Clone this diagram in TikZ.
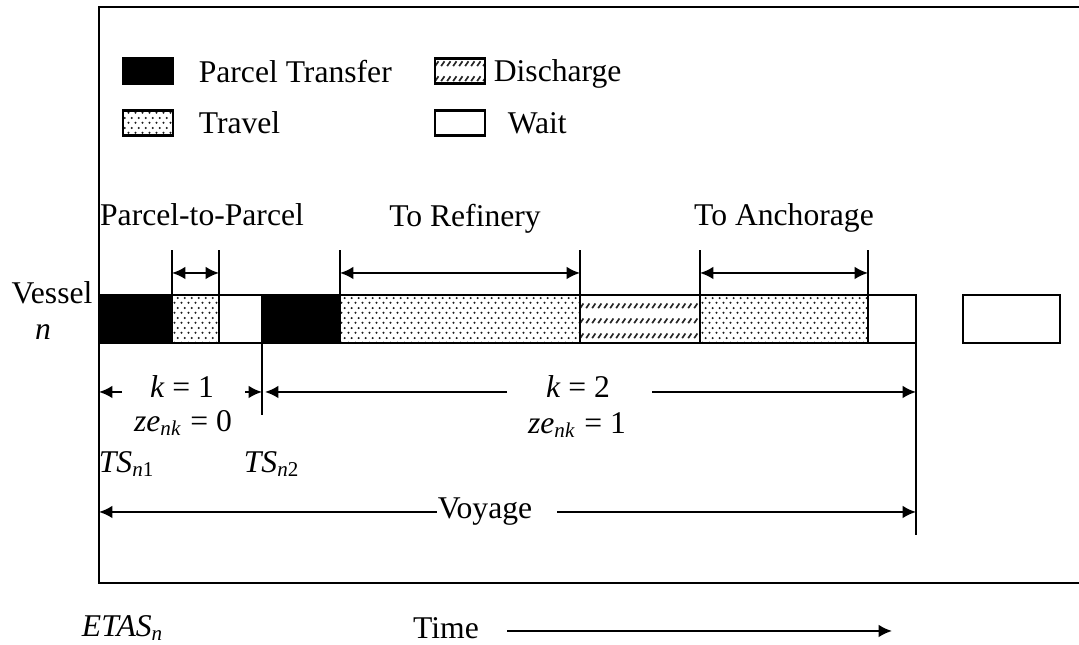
\documentclass[tikz,border=0pt]{standalone}
\usepackage{fontspec}
\setmainfont{Liberation Serif}
\usetikzlibrary{arrows.meta,patterns.meta,positioning}

% fill patterns for travel and discharge
\tikzdeclarepattern{
  name=travdots,
  tile size={(1.9pt,2.85pt)},
  bounding box={(0pt,0pt) and (1.9pt,2.85pt)},
  code={
    \fill (0.45pt,0.7pt) circle (0.34pt);
    \fill (1.4pt,2.12pt) circle (0.34pt);
  }
}
\tikzdeclarepattern{
  name=dischlines,
  tile size={(1.65pt,4.3pt)},
  bounding box={(0pt,0pt) and (1.65pt,4.3pt)},
  code={
    \draw[line width=0.5pt] (0.35pt,1.45pt) -- (1.3pt,2.85pt);
  }
}

\begin{document}
\begin{tikzpicture}[
  font=\fontsize{9}{11}\selectfont,
  line width=0.6pt,
  ptrans/.style={draw=black, fill=black},
  travel/.style={draw=black, pattern=travdots, pattern color=black!90},
  dischg/.style={draw=black, pattern=dischlines, pattern color=black!85},
  waitbox/.style={draw=black, fill=white},
  legbox/.style={minimum width=0.5cm, minimum height=0.25cm, inner sep=0pt},
  lbl/.style={text depth=0pt},
  dim/.style={-{Latex[length=3.8pt,width=3.6pt]}},
  dimboth/.style={{Latex[length=3.8pt,width=3.6pt]}-{Latex[length=3.8pt,width=3.6pt]}}]
\useasboundingbox (0,0) rectangle (10.79,6.45);
% frame (open on the right)
\draw (10.79,6.38) -- (0.99,6.38) -- (0.99,0.62) -- (10.79,0.62);
% legend
\node[legbox, ptrans] (lgpt) at (1.48,5.74) {};
\node[lbl, right=0.12cm of lgpt] (lgpttxt) {Parcel Transfer};
\node[legbox, travel] (lgtr) at (1.48,5.22) {};
\node[lbl, right=0.12cm of lgtr] (lgtrtxt) {Travel};
\node[legbox, dischg] (lgdc) at (4.60,5.74) {};
\node[lbl, right=-0.05cm of lgdc] (lgdctxt) {Discharge};
\node[legbox, waitbox] (lgwt) at (4.60,5.22) {};
\node[lbl, right=0.09cm of lgwt] (lgwttxt) {Wait};
% vessel n schedule bar
\node (vsl) at (0.52,3.52) {Vessel};
\node (vsln) at (0.43,3.13) {\textit{n}};
\foreach \a/\b/\s in {0.99/1.72/ptrans, 1.72/2.19/travel, 2.19/2.62/waitbox,
    2.62/3.40/ptrans, 3.40/5.80/travel, 5.80/7.00/dischg, 7.00/8.68/travel,
    8.68/9.16/waitbox, 9.63/10.60/waitbox}
  \draw[\s] (\a,3.02) rectangle (\b,3.50);
% travel legs above the bar
\foreach \x [count=\i] in {1.72,2.19,3.40,5.80,7.00,8.68} {
  \draw (\x,3.50) -- (\x,3.95);
  \coordinate (t\i) at (\x,3.72);
}
\draw[dimboth] (t1) -- (t2);
\draw[dimboth] (t3) -- (t4);
\draw[dimboth] (t5) -- (t6);
\node[lbl] (p2p) at (2.02,4.30) {Parcel-to-Parcel};
\node[lbl] (toref) at (4.65,4.30) {To Refinery};
\node[lbl] (toanc) at (7.84,4.30) {To Anchorage};
% parcel transfers k = 1, 2
\draw (2.62,3.02) -- (2.62,2.30);
\draw (9.16,3.02) -- (9.16,1.10);
\coordinate (s1) at (0.99,2.53);
\coordinate (s2) at (2.62,2.53);
\coordinate (s2b) at (2.65,2.53);
\coordinate (s3) at (9.16,2.53);
\coordinate (a1) at (1.22,2.53);
\coordinate (a2) at (2.45,2.53);
\coordinate (a3) at (5.07,2.53);
\coordinate (a4) at (6.52,2.53);
\draw[dim] (a1) -- (s1);
\draw[dim] (a2) -- (s2);
\draw[dim] (a3) -- (s2b);
\draw[dim] (a4) -- (s3);
\node (k1) at (1.82,2.58) {\textit{k} = 1};
\node (ze1) at (1.83,2.22) {\textit{ze}\textsubscript{\textit{nk}} = 0};
\node (k2) at (5.78,2.58) {\textit{k} = 2};
\node (ze2) at (5.77,2.20) {\textit{ze}\textsubscript{\textit{nk}} = 1};
\node (ts1) at (1.27,1.81) {\textit{TS}\textsubscript{\textit{n}1}};
\node (ts2) at (2.72,1.81) {\textit{TS}\textsubscript{\textit{n}2}};
% voyage
\node[inner sep=0pt] (voy) at (4.85,1.33) {Voyage};
\coordinate (v0) at (0.99,1.33);
\coordinate (v1) at (5.57,1.33);
\coordinate (v2) at (9.16,1.33);
\draw[dim] (voy.west) -- (v0);
\draw[dim] (v1) -- (v2);
% time axis
\node (etas) at (1.23,0.17) {\textit{ETAS}\textsubscript{\textit{n}}};
\node (time) at (4.46,0.17) {Time};
\coordinate (ta) at (5.07,0.14);
\coordinate (tb) at (8.92,0.14);
\draw[dim] (ta) -- (tb);
\end{tikzpicture}
\end{document}
